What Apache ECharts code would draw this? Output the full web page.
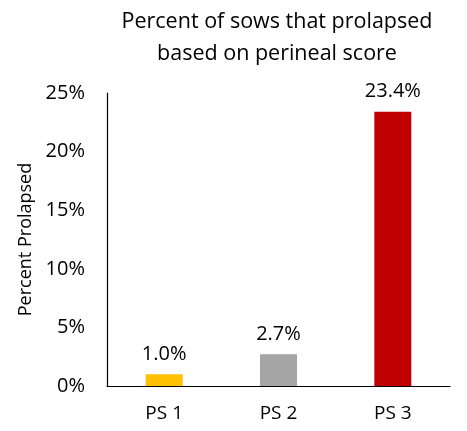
<!DOCTYPE html>
<html><head><meta charset="utf-8">
<script src="https://cdn.jsdelivr.net/npm/echarts@6/dist/echarts.min.js"></script>
<style>html,body{margin:0;padding:0;background:#fff}#c{width:467px;height:431px}</style>
</head><body><div id="c"></div>
<script>
const categories = ['PS 1', 'PS 2', 'PS 3'];
const values = [1.0, 2.7, 23.4];
const colors = ['#FFC000', '#A5A5A5', '#C00000'];
const yTicks = [0, 5, 10, 15, 20, 25];
const FONT = '"Open Sans", "Liberation Sans", sans-serif';
const chart = echarts.init(document.getElementById('c'));
chart.setOption({
  animation: false,
  title: {
    text: 'Percent of sows that prolapsed\nbased on perineal score',
    left: 272, textAlign: 'center', top: 1,
    textStyle: { fontFamily: FONT, fontSize: 21.5, fontWeight: 'normal', color: '#000', lineHeight: 32 }
  },
  grid: { left: 107, right: 17, top: 93, bottom: 45 },
  xAxis: {
    type: 'category', data: categories,
    axisLine: { lineStyle: { color: '#000', width: 1.2 } },
    axisTick: { show: false },
    axisLabel: { fontFamily: FONT, fontSize: 19, color: '#000', margin: 18 }
  },
  yAxis: {
    type: 'value', min: yTicks[0], max: yTicks[yTicks.length - 1], interval: 5,
    name: 'Percent Prolapsed', nameLocation: 'middle', nameGap: 72,
    nameTextStyle: { fontFamily: FONT, fontSize: 18, color: '#000' },
    axisLine: { show: true, lineStyle: { color: '#000', width: 1.2 } },
    axisTick: { show: false },
    splitLine: { show: false },
    axisLabel: { fontFamily: FONT, fontSize: 20, color: '#000', margin: 22, formatter: v => v + '%' }
  },
  series: [{
    type: 'bar', barWidth: 37,
    data: values.map((v, i) => ({ value: v, itemStyle: { color: colors[i] } })),
    label: { show: true, position: 'top', distance: 10, fontFamily: FONT, fontSize: 20, color: '#000',
      formatter: p => p.value.toFixed(1) + '%' }
  }]
});
</script></body></html>
